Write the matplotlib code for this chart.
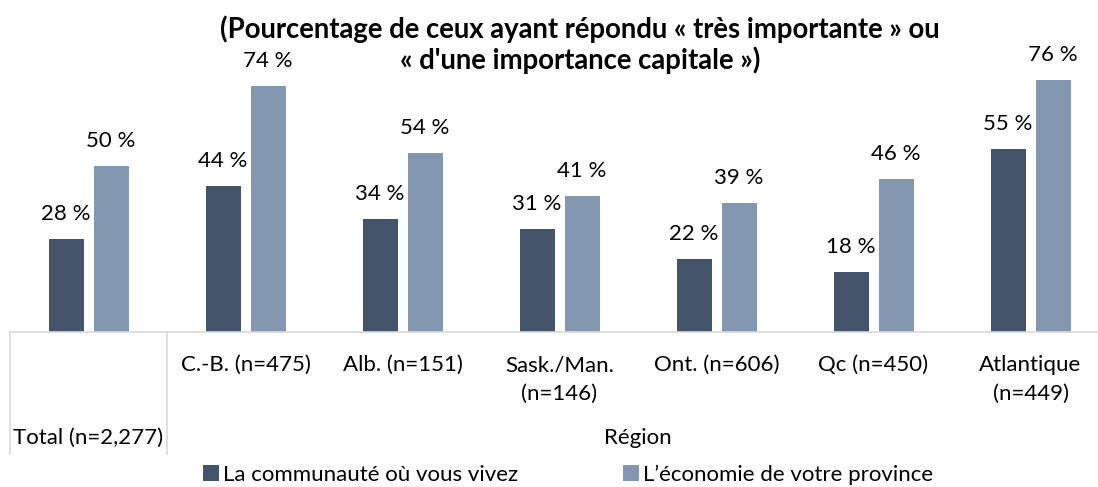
import matplotlib
matplotlib.use("Agg")
import matplotlib.pyplot as plt
from matplotlib.patches import Patch
from matplotlib.lines import Line2D
import matplotlib.transforms as mtransforms

categories = ["Total (n=2,277)", "C.-B. (n=475)", "Alb. (n=151)", "Sask./Man.\n(n=146)",
              "Ont. (n=606)", "Qc (n=450)", "Atlantique\n(n=449)"]
series_names = ["La communauté où vous vivez", "L\u2019économie de votre province"]
communaute = [28, 44, 34, 31, 22, 18, 55]
economie = [50, 74, 54, 41, 39, 46, 76]
group_label = "Région"
title_lines = ["(Pourcentage de ceux ayant répondu « très importante » ou",
               "« d'une importance capitale »)"]

DARK = "#44546A"
LIGHT = "#8497B0"
GRID = "#D9D9D9"
FS = 16

plt.rcParams['font.family'] = ['Lato', 'DejaVu Sans']

W, H = 1098, 487
fig = plt.figure(figsize=(W / 100, H / 100), dpi=100)

# axes geometry in pixels
left_px, cat_w = 10, 157
base_px = 332
ppu = 3.32  # pixels per percent
ymax = 100
ax_w = cat_w * len(categories)
ax_h = ppu * ymax
ax = fig.add_axes([left_px / W, (H - base_px) / H, ax_w / W, ax_h / H])
ax.set_xlim(-0.5, len(categories) - 0.5)
ax.set_ylim(0, ymax)

bw = 35 / cat_w
off = 22.5 / cat_w
xs = list(range(len(categories)))
b1 = ax.bar([x - off for x in xs], communaute, width=bw, color=DARK, label=series_names[0])
b2 = ax.bar([x + off for x in xs], economie, width=bw, color=LIGHT, label=series_names[1])

for bars, vals in ((b1, communaute), (b2, economie)):
    for rect, v in zip(bars, vals):
        ax.annotate(f"{v} %", (rect.get_x() + rect.get_width() / 2, v),
                    xytext=(0, 25), textcoords="offset pixels",
                    ha="center", va="center", fontsize=FS, color="#000000")

for s in ("top", "right", "left"):
    ax.spines[s].set_visible(False)
ax.spines["bottom"].set_color(GRID)
ax.spines["bottom"].set_linewidth(1.2)
ax.set_xticks([])
ax.set_yticks([])


def fig_y(py):
    return (H - py) / H


trans = mtransforms.blended_transform_factory(ax.transData, fig.transFigure)
for i, lab in enumerate(categories):
    if i == 0:
        ax.text(i, fig_y(438), lab, transform=trans, ha="center", va="center",
                fontsize=FS, clip_on=False)
    else:
        for j, ln in enumerate(lab.split("\n")):
            ax.text(i, fig_y(365 + 29 * j), ln, transform=trans, ha="center", va="center",
                    fontsize=FS, clip_on=False)

# group label centered over the regions
ax.text((1 + len(categories) - 1) / 2, fig_y(438), group_label, transform=trans,
        ha="center", va="center", fontsize=FS, clip_on=False)

# separators of the multi-level axis
for xv in (-0.5, 0.5):
    ax.add_line(Line2D([xv, xv], [fig_y(base_px), fig_y(454)], transform=trans,
                       color=GRID, linewidth=1.2, clip_on=False))

for k, ln in enumerate(title_lines):
    fig.text(580 / W, fig_y(29 + 31 * k), ln, ha="center", va="center", fontsize=19.8,
             fontweight="bold")

handles = [Patch(facecolor=DARK, edgecolor="none"), Patch(facecolor=LIGHT, edgecolor="none")]
fig.legend(handles, series_names, loc="center", bbox_to_anchor=(568 / W, fig_y(475)),
           ncol=2, frameon=False, fontsize=FS, handlelength=0.72, handleheight=0.72,
           handletextpad=0.2, columnspacing=4.7, borderaxespad=0, borderpad=0)

fig.savefig("out.png", dpi=100)
